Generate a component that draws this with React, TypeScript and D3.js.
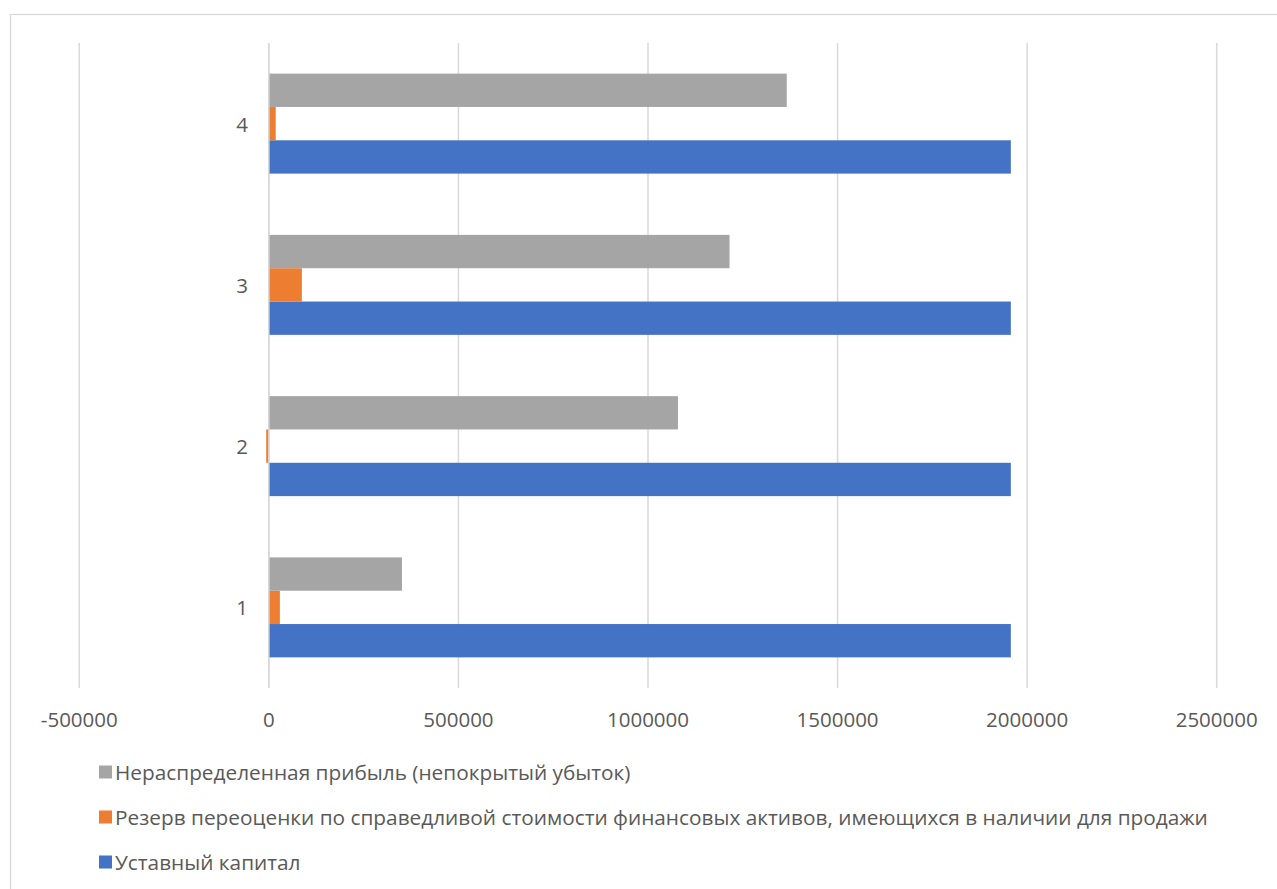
import React from "react";
import * as d3 from "d3";

const categories = ["1", "2", "3", "4"];
const seriesNames = [
  "Уставный капитал",
  "Резерв переоценки по справедливой стоимости финансовых активов, имеющихся в наличии для продажи",
  "Нераспределенная прибыль (непокрытый убыток)",
];
const seriesColors = ["#4472C4", "#ED7D31", "#A5A5A5"];
const ustavnyKapital = [1957000, 1957000, 1957000, 1957000];
const rezervPereocenki = [29000, -7000, 87000, 18000];
const neraspredPribyl = [351000, 1079000, 1215000, 1366000];
const xTicks = [-500000, 0, 500000, 1000000, 1500000, 2000000, 2500000];

const W = 1277;
const H = 889;
const FONT = "'Open Sans', sans-serif";
const FS = 20.5;
const FS_LEGEND = 20.8;
const TEXT = "#595959";
const GRID = "#D9D9D9";

export default function App() {
  const seriesValues = [ustavnyKapital, rezervPereocenki, neraspredPribyl];
  const x = d3.scaleLinear().domain([-500000, 2500000]).range([79.3, 1216.7]);
  const gap = 0.38;
  const y = d3
    .scaleBand<string>()
    .domain([...categories].reverse())
    .range([43, 688])
    .paddingInner(gap)
    .paddingOuter(gap / 2);
  // series drawn from bottom (index 0) to top (index 2)
  const sub = d3
    .scaleBand<string>()
    .domain(["2", "1", "0"])
    .range([0, y.bandwidth()]);

  const legendOrder = [2, 1, 0];
  const legendY = [772, 817, 862];

  return (
    <div style={{ position: "absolute", left: 0, top: 0 }}>
      <svg width={W} height={H} style={{ display: "block", background: "#fff" }}>
        <rect x={10.5} y={14.5} width={1400} height={1000} fill="#fff" stroke={GRID} strokeWidth={1.3} />
        {xTicks.map((t) => (
          <line key={t} x1={x(t)} x2={x(t)} y1={43} y2={688} stroke={GRID} strokeWidth={1.5} />
        ))}
        {categories.map((c, ci) => (
          <g key={c}>
            {seriesValues.map((vals, si) => {
              const v = vals[ci];
              const x0 = x(Math.min(0, v));
              const x1 = x(Math.max(0, v));
              return (
                <rect
                  key={si}
                  x={x0}
                  y={(y(c) as number) + (sub(String(si)) as number)}
                  width={Math.max(0, x1 - x0)}
                  height={sub.bandwidth()}
                  fill={seriesColors[si]}
                />
              );
            })}
            <text
              x={248}
              y={(y(c) as number) + y.bandwidth() / 2}
              textAnchor="end"
              dominantBaseline="central"
              fontFamily={FONT}
              fontSize={FS}
              fill={TEXT}
            >
              {c}
            </text>
          </g>
        ))}
        <line x1={x(0)} x2={x(0)} y1={43} y2={688} stroke={GRID} strokeWidth={1.5} />
        {xTicks.map((t) => (
          <text
            key={"l" + t}
            x={x(t)}
            y={719}
            textAnchor="middle"
            dominantBaseline="central"
            fontFamily={FONT}
            fontSize={FS}
            fill={TEXT}
          >
            {t}
          </text>
        ))}
        {legendOrder.map((si, i) => (
          <g key={"lg" + si}>
            <rect x={99} y={legendY[i] - 6.5} width={13} height={13} fill={seriesColors[si]} />
            <text
              x={115}
              y={legendY[i]}
              dominantBaseline="central"
              fontFamily={FONT}
              fontSize={FS_LEGEND}
              fill={TEXT}
            >
              {seriesNames[si]}
            </text>
          </g>
        ))}
      </svg>
    </div>
  );
}
